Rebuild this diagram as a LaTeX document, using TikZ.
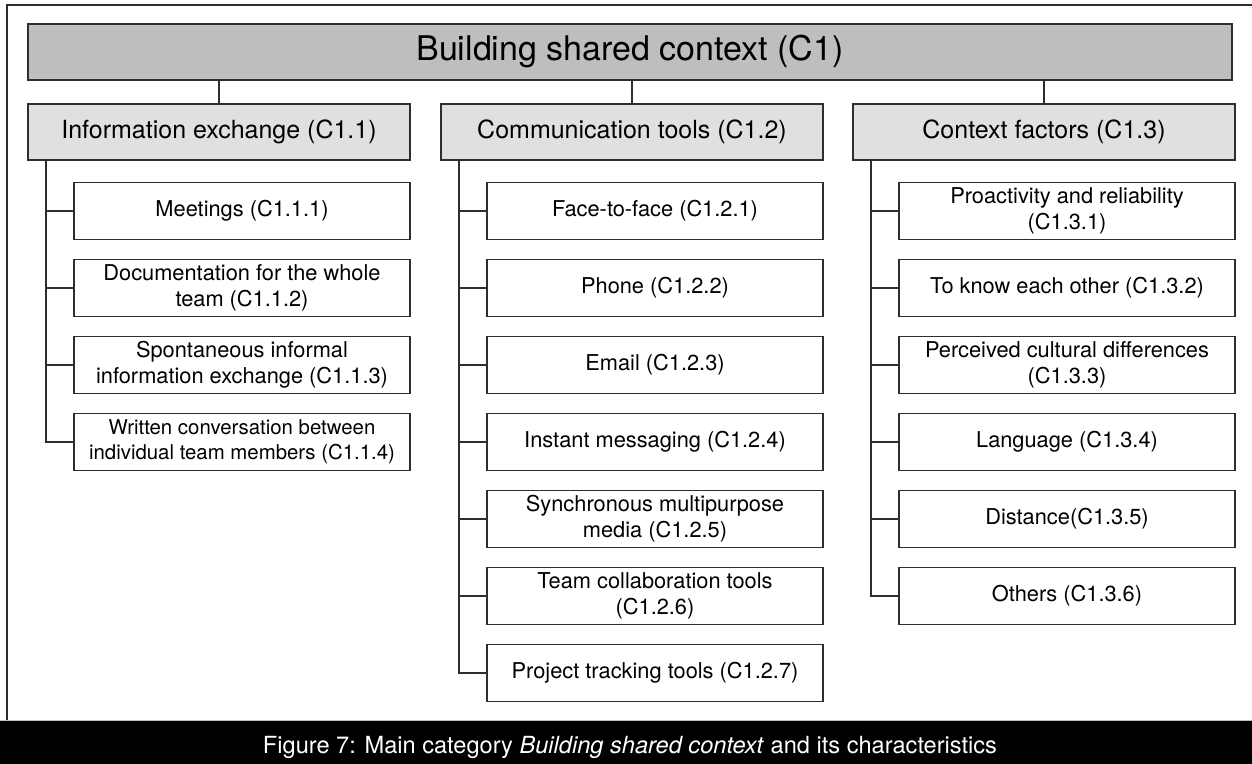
\documentclass[tikz,border=0pt]{standalone}
\usepackage{fontspec}
\setmainfont{TeX Gyre Heros}
\definecolor{rootgray}{HTML}{BEBEBE}
\definecolor{subgray}{HTML}{E0E0E0}
\definecolor{edgegray}{HTML}{2E2E2E}
\tikzstyle{category} = [
    rectangle,
    minimum width=602pt,
    minimum height=28pt,
    draw=edgegray,
    line width=0.8pt,
    fill=rootgray,
    font=\fontsize{17}{20}\selectfont
]
\tikzstyle{subcategory} = [
    rectangle,
    minimum width=191pt,
    minimum height=28pt,
    draw=edgegray,
    line width=0.8pt,
    fill=subgray,
    font=\fontsize{12.5}{15}\selectfont
]
\tikzstyle{characteristic} = [
    rectangle,
    minimum width=168pt,
    minimum height=28.5pt,
    inner sep=1pt,
    align=center,
    draw=edgegray,
    line width=0.8pt,
    font=\fontsize{10.9}{13}\selectfont
]
\tikzstyle{link} = [draw=edgegray, line width=0.8pt]

\begin{document}
\begin{tikzpicture}[x=0.5pt, y=-0.5pt, node distance=38.5pt]

\useasboundingbox (0,0) rectangle (1252,764);

% frame and caption bar
\draw [link] (1252,5) -- (7,5) -- (7,720);
\fill [black] (0,720) rectangle (1252,764);
\draw [gray!50, line width=0.5pt] (0,720) -- (1252,720);
\node (caption) [anchor=base, text=white, font=\fontsize{11.8}{14}\selectfont] at (630,753)
{Figure 7: Main category \textit{Building shared context} and its characteristics};

\node (c1) [category] at (630,52) {Building shared context (C1)};

\node (c11) [subcategory] at (219,132) {Information exchange (C1.1)};
\node (c12) [subcategory] at (632,132) {Communication tools (C1.2)};
\node (c13) [subcategory] at (1044,132) {Context factors (C1.3)};

% C1.1
\node (c111) [characteristic] at (242,211) {Meetings (C1.1.1)};
\node (c112) [characteristic, below of=c111]
{Documentation for the whole\\team (C1.1.2)};
\node (c113) [characteristic, below of=c112]
{Spontaneous informal\\information exchange (C1.1.3)};
\node (c114) [characteristic, below of=c113, font=\fontsize{10.2}{12.5}\selectfont]
{Written conversation between\\individual team members (C1.1.4)};

% C1.2
\node (c121) [characteristic] at (655,211) {Face-to-face (C1.2.1)};
\node (c122) [characteristic, below of=c121] {Phone (C1.2.2)};
\node (c123) [characteristic, below of=c122] {Email (C1.2.3)};
\node (c124) [characteristic, below of=c123] {Instant messaging (C1.2.4)};
\node (c125) [characteristic, below of=c124]
{Synchronous multipurpose\\media (C1.2.5)};
\node (c126) [characteristic, below of=c125]
{Team collaboration tools\\(C1.2.6)};
\node (c127) [characteristic, below of=c126] {Project tracking tools (C1.2.7)};

% C1.3
\node (c131) [characteristic] at (1067,211)
{Proactivity and reliability\\(C1.3.1)};
\node (c132) [characteristic, below of=c131] {To know each other (C1.3.2)};
\node (c133) [characteristic, below of=c132]
{Perceived cultural differences\\(C1.3.3)};
\node (c134) [characteristic, below of=c133] {Language (C1.3.4)};
\node (c135) [characteristic, below of=c134] {Distance(C1.3.5)};
\node (c136) [characteristic, below of=c135] {Others (C1.3.6)};

% top level links
\draw [link] (c11.north) -- (c11.north |- c1.south);
\draw [link] (c12.north) -- (c12.north |- c1.south);
\draw [link] (c13.north) -- (c13.north |- c1.south);

% spines
\coordinate (s1) at ([xshift=9.5pt]c11.south west);
\coordinate (s2) at ([xshift=9.5pt]c12.south west);
\coordinate (s3) at ([xshift=9.5pt]c13.south west);

\draw [link] (s1) |- (c114.west);
\draw [link] (c111.west) -- (c111.west -| s1);
\draw [link] (c112.west) -- (c112.west -| s1);
\draw [link] (c113.west) -- (c113.west -| s1);

\draw [link] (s2) |- (c127.west);
\draw [link] (c121.west) -- (c121.west -| s2);
\draw [link] (c122.west) -- (c122.west -| s2);
\draw [link] (c123.west) -- (c123.west -| s2);
\draw [link] (c124.west) -- (c124.west -| s2);
\draw [link] (c125.west) -- (c125.west -| s2);
\draw [link] (c126.west) -- (c126.west -| s2);

\draw [link] (s3) |- (c136.west);
\draw [link] (c131.west) -- (c131.west -| s3);
\draw [link] (c132.west) -- (c132.west -| s3);
\draw [link] (c133.west) -- (c133.west -| s3);
\draw [link] (c134.west) -- (c134.west -| s3);
\draw [link] (c135.west) -- (c135.west -| s3);

\end{tikzpicture}
\end{document}
